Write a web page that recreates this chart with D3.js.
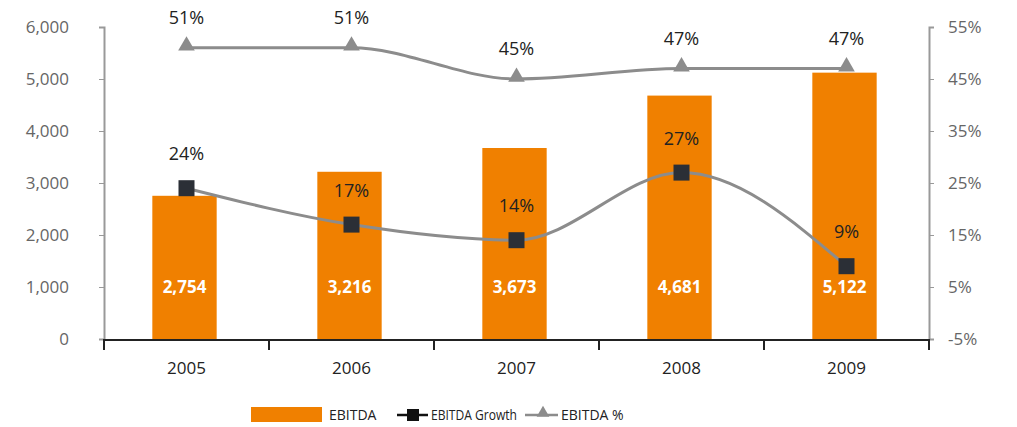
<!DOCTYPE html>
<html><head><meta charset="utf-8">
<script src="https://cdn.jsdelivr.net/npm/d3@7"></script>
<style>
html,body{margin:0;padding:0;background:#fff;}
svg{display:block;font-family:"Open Sans","DejaVu Sans",sans-serif;}
</style></head>
<body><svg id="c" width="1017" height="427"></svg>
<script>
const years = ["2005","2006","2007","2008","2009"];
const ebitda = [2754,3216,3673,4681,5122];
const growth = [24,17,14,27,9];
const margin = [51,51,45,47,47];
const leftTicks = [0,1000,2000,3000,4000,5000,6000];
const rightTicks = [-5,5,15,25,35,45,55];
const legendLabels = ["EBITDA","EBITDA Growth","EBITDA %"];

const svg = d3.select("#c");
const x0 = 104, x1 = 929, yBase = 339, yTop = 27;
const x = d3.scaleBand().domain(years).range([x0,x1]).paddingInner(0.61).paddingOuter(0.305);
const yL = d3.scaleLinear().domain([0,6000]).range([yBase,yTop]);
const yR = d3.scaleLinear().domain([-5,55]).range([yBase,yTop]);
const cx = d => x(d)+x.bandwidth()/2;
const orange = "#f08000";

// bars
svg.selectAll("rect.bar").data(years).join("rect")
  .attr("x",d=>x(d)-2).attr("width",x.bandwidth())
  .attr("y",(d,i)=>yL(ebitda[i])).attr("height",(d,i)=>yBase-yL(ebitda[i]))
  .attr("fill",orange);
svg.selectAll("text.bl").data(years).join("text")
  .attr("x",d=>cx(d)-2).attr("y",yL(1000)+6).attr("text-anchor","middle")
  .attr("fill","#fff").attr("font-size",17).attr("font-weight","bold")
  .text((d,i)=>d3.format(",")(ebitda[i]));

// left axis
const gL = svg.append("g").attr("transform",`translate(${x0},0)`)
  .call(d3.axisLeft(yL).tickValues(leftTicks).tickFormat(d3.format(",")).tickSize(5).tickPadding(30));
gL.select(".domain").attr("stroke","#999").attr("stroke-width",2);
gL.selectAll(".tick line").attr("stroke","#999");
gL.selectAll("text").attr("fill","#666").attr("font-size",17).attr("font-family","Open Sans, DejaVu Sans, sans-serif");

// right axis
const gR = svg.append("g").attr("transform",`translate(${x1},0)`)
  .call(d3.axisRight(yR).tickValues(rightTicks).tickFormat(d=>d+"%").tickSize(5).tickPadding(14));
gR.select(".domain").attr("stroke","#999").attr("stroke-width",2);
gR.selectAll(".tick line").attr("stroke","#999");
gR.selectAll("text").attr("fill","#666").attr("font-size",17).attr("font-family","Open Sans, DejaVu Sans, sans-serif");

// x axis
const xB = d3.scalePoint().domain(d3.range(years.length+1)).range([x0,x1]);
svg.append("line").attr("x1",x0).attr("x2",x1).attr("y1",yBase+1).attr("y2",yBase+1)
  .attr("stroke","#222").attr("stroke-width",2);
svg.selectAll("line.xt").data(d3.range(years.length+1)).join("line")
  .attr("x1",d=>xB(d)).attr("x2",d=>xB(d)).attr("y1",yBase).attr("y2",yBase+11)
  .attr("stroke","#222").attr("stroke-width",2);
svg.selectAll("text.yr").data(years).join("text")
  .attr("x",cx).attr("y",374).attr("text-anchor","middle")
  .attr("fill","#222").attr("font-size",17).text(d=>d);

const curve = d3.curveMonotoneX;
// margin line
const lineM = d3.line().x((d,i)=>cx(years[i])).y(d=>yR(d)).curve(curve);
svg.append("path").attr("d",lineM(margin)).attr("fill","none").attr("stroke","#8c8c8c").attr("stroke-width",3);
const tri = d3.symbol().type(d3.symbolTriangle).size(120);
svg.selectAll("path.tri").data(margin).join("path")
  .attr("d",tri).attr("transform",(d,i)=>`translate(${cx(years[i])},${yR(d)-2})`).attr("fill","#8c8c8c");
svg.selectAll("text.ml").data(margin).join("text")
  .attr("x",(d,i)=>cx(years[i])).attr("y",d=>yR(d)-24).attr("text-anchor","middle")
  .attr("fill","#222").attr("font-size",18).text(d=>d+"%");

// growth line
const lineG = d3.line().x((d,i)=>cx(years[i])).y(d=>yR(d)).curve(curve);
svg.append("path").attr("d",lineG(growth)).attr("fill","none").attr("stroke","#8c8c8c").attr("stroke-width",3);
svg.selectAll("rect.sq").data(growth).join("rect")
  .attr("x",(d,i)=>cx(years[i])-8).attr("y",d=>yR(d)-8).attr("width",16).attr("height",16)
  .attr("fill","#2b2f36");
svg.selectAll("text.gl").data(growth).join("text")
  .attr("x",(d,i)=>cx(years[i])).attr("y",d=>yR(d)-28).attr("text-anchor","middle")
  .attr("fill","#222").attr("font-size",18).text(d=>d+"%");

// legend
const lg = svg.append("g").attr("font-size",14).attr("fill","#222");
lg.append("rect").attr("x",251).attr("y",407).attr("width",71).attr("height",15).attr("fill",orange);
lg.append("text").attr("x",329).attr("y",420).text(legendLabels[0]);
lg.append("line").attr("x1",397).attr("x2",428).attr("y1",415).attr("y2",415).attr("stroke","#111").attr("stroke-width",2.5);
lg.append("rect").attr("x",407).attr("y",409).attr("width",12).attr("height",12).attr("fill","#111");
lg.append("text").attr("x",431).attr("y",420).attr("textLength",86).attr("lengthAdjust","spacingAndGlyphs").text(legendLabels[1]);
lg.append("line").attr("x1",525).attr("x2",558).attr("y1",415).attr("y2",415).attr("stroke","#8c8c8c").attr("stroke-width",2.5);
lg.append("path").attr("d",d3.symbol().type(d3.symbolTriangle).size(70)).attr("transform","translate(543,413)").attr("fill","#8c8c8c");
lg.append("text").attr("x",561).attr("y",420).text(legendLabels[2]);
</script></body></html>
